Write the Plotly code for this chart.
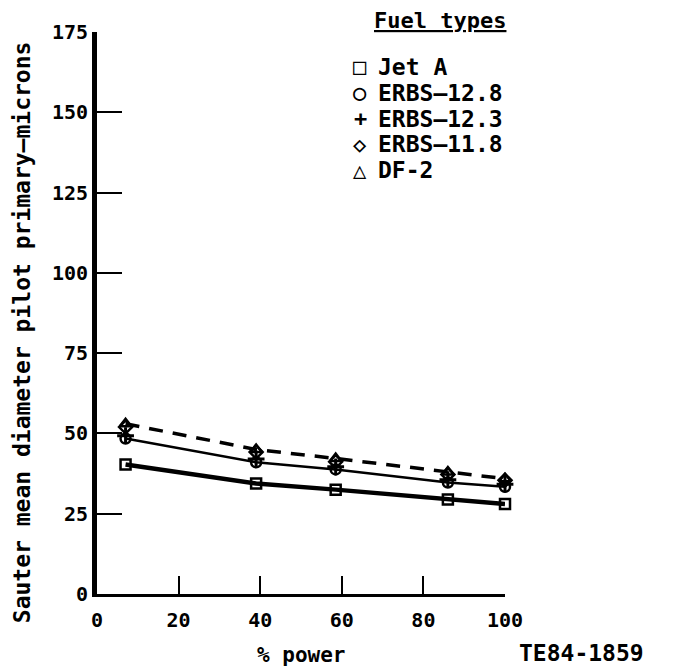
import plotly.graph_objects as go

power = [7, 39, 58.5, 86, 100]
jet_a = [40.3, 34.4, 32.5, 29.4, 28.0]
erbs_128 = [48.4, 41.0, 38.8, 34.7, 33.4]
erbs_123 = [49.3, 42.0, 39.6, 35.6, 34.2]
erbs_118 = [52.0, 44.2, 41.2, 37.2, 35.4]
df2 = [53.0, 45.0, 42.2, 38.0, 35.9]

x_ticks = [0, 20, 40, 60, 80, 100]
y_ticks = [0, 25, 50, 75, 100, 125, 150, 175]

legend_names = ["Jet A", "ERBS\u201412.8", "ERBS\u201412.3", "ERBS\u201411.8", "DF-2"]
legend_glyphs = ["\u25a1", "\u25cb", "+", "\u25c7", "\u25b3"]

FONT = "DejaVu Sans Mono"
fig = go.Figure()

def add(y, sym, line=None, msize=10, mw=2.5):
    fig.add_trace(go.Scatter(
        x=power, y=y, mode="lines+markers" if line else "markers",
        line=line if line else None,
        marker=dict(symbol=sym, size=msize, color="black",
                    line=dict(color="black", width=mw)),
        cliponaxis=False, showlegend=False))

add(df2, "triangle-up-open", dict(color="black", width=3.5, dash="14px,10px"))
add(erbs_118, "diamond-open")
add(erbs_123, "cross-thin-open", msize=12, mw=3)
add(erbs_128, "circle-open", dict(color="black", width=2.5))
add(jet_a, "square-open", dict(color="black", width=4.5))

tickfont = dict(size=20, family=FONT, weight="bold")
fig.update_layout(
    width=675, height=667,
    margin=dict(l=89, r=178, t=24, b=81),
    paper_bgcolor="white", plot_bgcolor="white",
    font=dict(family=FONT, color="black", size=18),
    xaxis=dict(range=[0, 100], tickvals=x_ticks, ticks="inside", ticklen=18,
               tickwidth=2, tickcolor="black", showline=True, linewidth=3,
               linecolor="black", showgrid=False, zeroline=False, automargin=False,
               tickfont=tickfont, ticklabelstandoff=6),
    yaxis=dict(range=[0, 175], tickvals=y_ticks, ticks="inside", ticklen=25,
               tickwidth=2, tickcolor="black", showline=True, linewidth=5,
               linecolor="black", showgrid=False, zeroline=False, automargin=False,
               tickfont=tickfont, ticklabelstandoff=0),
)

fig.add_annotation(xref="paper", yref="paper", x=-0.185, y=0.465, xanchor="center",
                   yanchor="middle", text="Sauter mean diameter pilot primary\u2014microns",
                   textangle=-90, showarrow=False,
                   font=dict(size=23, family=FONT, weight="bold"))
fig.add_annotation(xref="paper", yref="paper", x=0.5, y=-0.108, xanchor="center",
                   yanchor="middle", text="% power", showarrow=False,
                   font=dict(size=21, family=FONT, weight="bold"))
fig.add_annotation(xref="paper", yref="paper", x=1.03, y=-0.105, xanchor="left",
                   yanchor="middle", text="TE84-1859", showarrow=False,
                   font=dict(size=23, family=FONT, weight="bold"))
fig.add_annotation(xref="paper", yref="paper", x=0.675, y=1.021, xanchor="left",
                   yanchor="middle", text="<u>Fuel types</u>", showarrow=False,
                   font=dict(size=22, family=FONT, weight="bold"))
for i, (g, n) in enumerate(zip(legend_glyphs, legend_names)):
    yy = 0.938 - i * 0.046
    fig.add_annotation(xref="paper", yref="paper", x=0.645, y=yy,
                       xanchor="center", yanchor="middle", text=g,
                       showarrow=False, font=dict(size=22, family=FONT, weight="bold"))
    fig.add_annotation(xref="paper", yref="paper", x=0.684, y=yy,
                       xanchor="left", yanchor="middle", text=n,
                       showarrow=False, font=dict(size=23, family=FONT, weight="bold"))

fig.write_html("out.html")
